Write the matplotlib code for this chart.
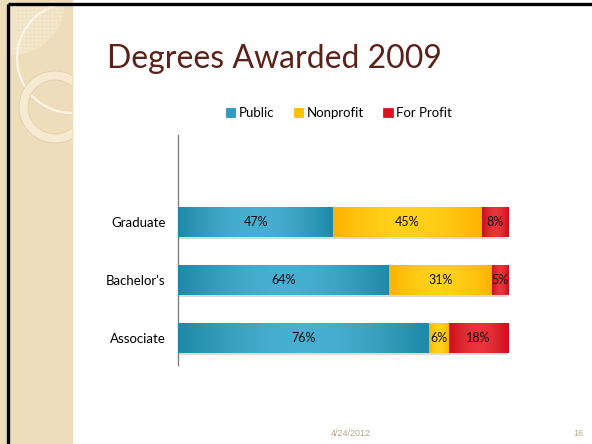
import numpy as np
import matplotlib
matplotlib.use("Agg")
import matplotlib.pyplot as plt
from matplotlib.patches import Rectangle, Circle, Patch, Wedge

categories = ["Associate", "Bachelor's", "Graduate"]
public = [76, 64, 47]
nonprofit = [6, 31, 45]
forprofit = [18, 5, 8]
series_names = ["Public", "Nonprofit", "For Profit"]

# base, edge (dark), centre (light)
colors = {
    "Public": ("#2E9BC0", "#1F89A8", "#47AFD1"),
    "Nonprofit": ("#FFC000", "#FFB300", "#FFD11C"),
    "For Profit": ("#D8141E", "#C8101A", "#E8343A"),
}

plt.rcParams['font.family'] = ['Lato', 'DejaVu Sans']

fig = plt.figure(figsize=(5.92, 4.44), dpi=100)
fig.patch.set_facecolor("white")

# slide background / decoration, in pixel coordinates
bg = fig.add_axes([0, 0, 1, 1])
bg.set_xlim(0, 592)
bg.set_ylim(444, 0)
bg.axis("off")
bg.add_patch(Rectangle((0, 0), 72, 444, color="#EEDDBB", zorder=1))
# lighter patterned patch at the top
patch = Circle((12, 2), 52, color="#F3E6CB", zorder=2)
bg.add_patch(patch)
patch.set_clip_path(Rectangle((9, 6), 63, 444, transform=bg.transData))
for k in range(10, 70, 4):
    ln = bg.plot([k, k], [6, 60], color="#EDDFC0", lw=0.4, zorder=3)[0]
    ln.set_clip_path(patch)
    ln2 = bg.plot([9, 70], [k - 4, k - 4], color="#EDDFC0", lw=0.4, zorder=3)[0]
    ln2.set_clip_path(patch)
clip_band = Rectangle((9, 6), 63, 444, transform=bg.transData)
arc = Circle((72, 58), 55, fill=False, ec="#FBF5E8", lw=1.6, zorder=4)
bg.add_patch(arc)
arc.set_clip_path(clip_band)
ring = Wedge((55, 107), 36, 0, 360, width=9, fc="#F6EBD2", ec="#E2CFA4", lw=0.6, zorder=4)
bg.add_patch(ring)
ring.set_clip_path(Rectangle((9, 6), 63, 444, transform=bg.transData))
# slide border (top and left only)
bg.plot([7.5, 592], [4.5, 4.5], color="black", lw=2.4, zorder=6, solid_capstyle="butt")
bg.plot([7.5, 7.5], [4.5, 444], color="black", lw=2.4, zorder=6, solid_capstyle="butt")

bg.text(107, 68, "Degrees Awarded 2009", fontsize=23, color="#5A2219",
        ha="left", va="baseline", zorder=7)
bg.text(351, 433, "4/24/2012", fontsize=6.5, color="#B5A68A", ha="center", va="center",
        family="Liberation Sans")
bg.text(583, 433, "16", fontsize=6.5, color="#B5A68A", ha="right", va="center",
        family="Liberation Sans")

# chart
ax = fig.add_axes([178 / 592, 1 - 365 / 444, 330 / 592, 230 / 444])
ax.set_facecolor("none")
ypos = np.arange(len(categories))
height = 0.52

grad = np.concatenate([np.linspace(0, 1, 50), np.linspace(1, 0, 50)])
grad = np.sin(grad * np.pi / 2)

left = np.zeros(len(categories))
for name, vals in zip(series_names, [public, nonprofit, forprofit]):
    base, dark, light = colors[name]
    # shadow
    ax.barh(ypos - 0.035, vals, height, left=left, color="#9a9a9a", alpha=0.35, zorder=1)
    bars = ax.barh(ypos, vals, height, left=left, color=base, zorder=2)
    cmap = matplotlib.colors.LinearSegmentedColormap.from_list(name, [dark, light])
    for b, v, l, y in zip(bars, vals, left, ypos):
        im = ax.imshow(grad[np.newaxis, :], cmap=cmap, aspect="auto",
                       extent=[l, l + v, y - height / 2, y + height / 2], zorder=3)
        im.set_clip_path(b)
        ax.text(l + v / 2, y, f"{v}%", ha="center", va="center", fontsize=9,
                color="#111111", zorder=4)
    left = left + np.array(vals)

ax.set_xlim(0, 100)
ax.set_ylim(-0.47, 3.5)
ax.set_yticks(ypos)
ax.set_yticklabels(categories, fontsize=9.5)
ax.tick_params(axis="y", length=0, pad=9)
ax.set_xticks([])
for s in ["top", "right", "bottom"]:
    ax.spines[s].set_visible(False)
ax.spines["left"].set_color("#808080")
ax.spines["left"].set_linewidth(1.0)

handles = [Patch(facecolor=colors[n][0], edgecolor=colors[n][1], lw=0.5) for n in series_names]
fig.legend(handles, series_names, loc="center", bbox_to_anchor=(339 / 592, 1 - 113 / 444),
           ncol=3, frameon=False, fontsize=9.5, handlelength=0.7, handleheight=0.7,
           handletextpad=0.25, columnspacing=1.5)

fig.savefig("out.png", dpi=100)
